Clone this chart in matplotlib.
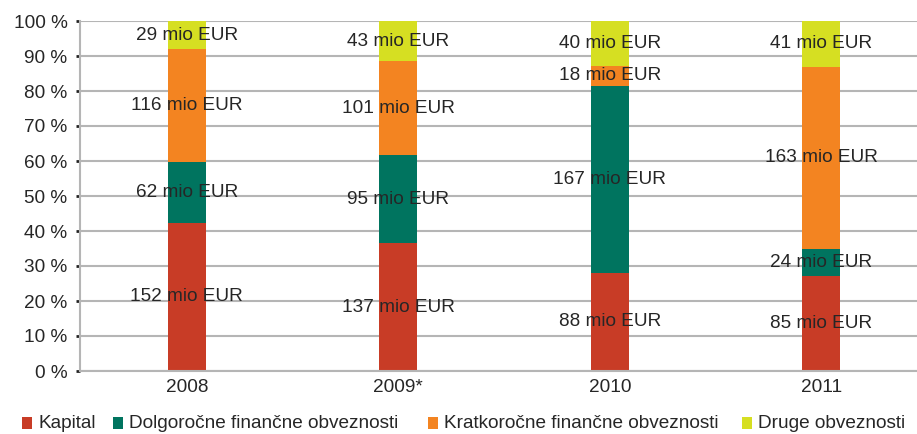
import matplotlib
matplotlib.use("Agg")
import matplotlib.pyplot as plt
import numpy as np
from matplotlib.patches import Rectangle

categories = ["2008", "2009*", "2010", "2011"]
series_names = ["Kapital", "Dolgoročne finančne obveznosti",
                "Kratkoročne finančne obveznosti", "Druge obveznosti"]
kapital = [152, 137, 88, 85]
dolgorocne = [62, 95, 167, 24]
kratkorocne = [116, 101, 18, 163]
druge = [29, 43, 40, 41]
yticks = [0, 10, 20, 30, 40, 50, 60, 70, 80, 90, 100]
ytick_labels = [f"{v} %" for v in yticks]

colors = ["#C83C26", "#00745F", "#F38421", "#D6DF22"]
text_color = "#262626"

plt.rcParams['font.family'] = ['Liberation Sans', 'DejaVu Sans']

series = [kapital, dolgorocne, kratkorocne, druge]
data = np.array(series, dtype=float)
totals = data.sum(axis=0)
pct = data / totals * 100

W, H = 917, 434
fig = plt.figure(figsize=(W / 100, H / 100), dpi=100)
ax = fig.add_axes([80 / W, 63 / H, 1 - 80 / W, 350 / H])

x = np.arange(len(categories))
bottom = np.zeros(len(categories))
width = 0.18
for i, (name, vals) in enumerate(zip(series_names, series)):
    ax.bar(x, pct[i], width, bottom=bottom, color=colors[i], label=name, zorder=2)
    for j in range(len(categories)):
        ax.text(x[j], bottom[j] + pct[i][j] / 2, f"{vals[j]} mio EUR",
                ha="center", va="center", fontsize=13.7, color=text_color, zorder=3)
    bottom += pct[i]

ax.set_xlim(-0.505, 3.452)
ax.set_ylim(0, 100)
ax.set_yticks(yticks)
ax.set_yticklabels(ytick_labels)
ax.set_xticks(x)
ax.set_xticklabels(categories)
ax.yaxis.grid(True, color="#B5B5B5", linewidth=1.5, zorder=0)
ax.set_axisbelow(True)
for s in ["top", "right"]:
    ax.spines[s].set_visible(False)
ax.spines["left"].set_color("#B5B5B5")
ax.spines["left"].set_linewidth(1.5)
ax.spines["bottom"].set_color("#B5B5B5")
ax.spines["bottom"].set_linewidth(1.5)
ax.tick_params(axis="y", length=3, width=2, color="#222222", pad=6,
               labelsize=13.7, labelcolor=text_color)
ax.tick_params(axis="x", length=0, pad=6, labelsize=13.7, labelcolor=text_color)

# legend entries placed like the reference (square left edges in pixels)
legend_x = [22, 113, 428, 742]
legend_y = 423
sq_w, sq_h = 10, 12
for lx, name, c in zip(legend_x, series_names, colors):
    fig.patches.append(Rectangle((lx / W, (H - legend_y - sq_h / 2) / H), sq_w / W, sq_h / H,
                                 transform=fig.transFigure, facecolor=c, edgecolor="none"))
    fig.text((lx + sq_w + 6) / W, (H - legend_y) / H, name, ha="left", va="center",
             fontsize=13.7, color=text_color)

fig.savefig("out.png", dpi=100)
